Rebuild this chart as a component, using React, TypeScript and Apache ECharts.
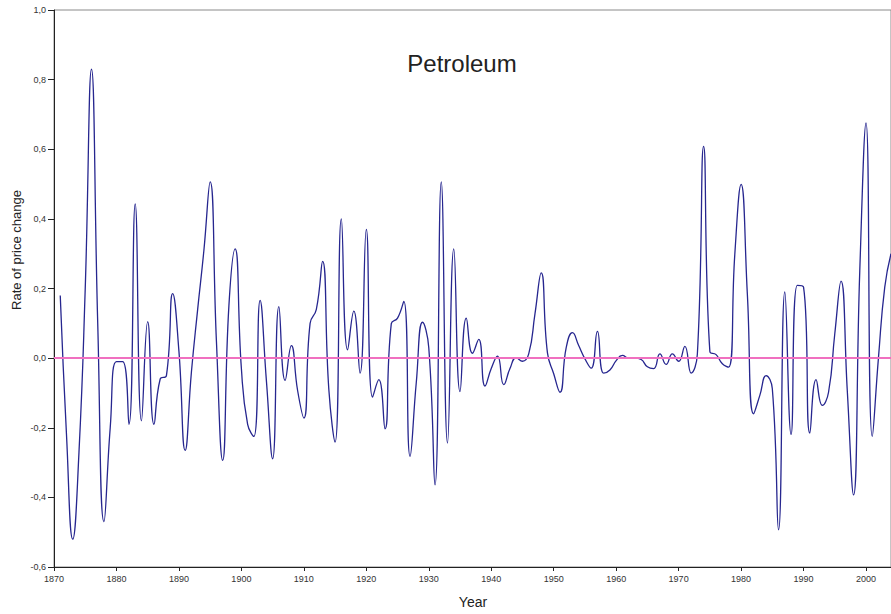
import React, { useEffect, useRef } from "react";
import * as echarts from "echarts";

const years: number[] = [];
for (let y = 1871; y <= 2004; y++) years.push(y);

const rates: number[] = [
  0.18, -0.22, -0.52, -0.27, 0.2, 0.83, 0.1, -0.47, -0.2, -0.01,
  -0.01, -0.19, 0.443, -0.18, 0.105, -0.19, -0.06, -0.05, 0.185, 0.02,
  -0.265, -0.04, 0.14, 0.31, 0.506, 0.05, -0.294, 0.15, 0.314, -0.03,
  -0.19, -0.225, 0.166, -0.064, -0.289, 0.148, -0.064, 0.036, -0.093, -0.172,
  0.1, 0.14, 0.278, -0.09, -0.241, 0.4, 0.024, 0.135, -0.043, 0.37,
  -0.112, -0.062, -0.203, 0.099, 0.115, 0.163, -0.282, -0.07, 0.103, 0.03,
  -0.364, 0.506, -0.244, 0.314, -0.096, 0.115, 0.014, 0.054, -0.08, -0.03,
  0.006, -0.076, -0.03, 0.001, -0.009, 0.012, 0.127, 0.245, 0.015, -0.045,
  -0.098, 0.03, 0.073, 0.036, -0.002, -0.029, 0.077, -0.043, -0.034, -0.007,
  0.008, 0.0, 0.0, -0.004, -0.025, -0.03, 0.012, -0.018, 0.012, -0.009,
  0.034, -0.043, 0.012, 0.608, 0.019, 0.01, -0.016, -0.026, 0.3, 0.499,
  0.185, -0.16, -0.107, -0.05, -0.088, -0.493, 0.19, -0.219, 0.209, 0.204,
  -0.215, -0.062, -0.136, -0.098, 0.07, 0.221, -0.093, -0.393, 0.25, 0.676,
  -0.225, 0.003, 0.204, 0.3,
];

const title = "Petroleum";
const yName = "Rate of price change";
const xName = "Year";

export default function App() {
  const ref = useRef<HTMLDivElement>(null);
  useEffect(() => {
    if (!ref.current) return;
    const chart = echarts.init(ref.current, undefined, { renderer: "svg" });
    const font = "Liberation Sans, Arial, sans-serif";
    chart.setOption({
      animation: false,
      backgroundColor: "#ffffff",
      textStyle: { fontFamily: font },
      grid: {
        left: 54,
        top: 10,
        right: -2,
        bottom: 47,
        show: true,
        borderColor: "#8a8a8a",
        borderWidth: 1,
      },
      xAxis: {
        type: "value",
        min: 1870,
        max: 2004,
        interval: 10,
        axisLine: { show: true, onZero: false, lineStyle: { color: "#222", width: 1 } },
        axisTick: { show: true, inside: false, length: 4, lineStyle: { color: "#222" } },
        axisLabel: {
          fontSize: 9,
          color: "#333",
          margin: 7,
          showMaxLabel: false,
          formatter: (v: number) => (v % 10 === 0 ? String(v) : ""),
        },
        splitLine: { show: false },
      },
      yAxis: {
        type: "value",
        min: -0.6,
        max: 1.0,
        interval: 0.2,
        axisLine: { show: true, lineStyle: { color: "#222", width: 1 } },
        axisTick: { show: true, inside: false, length: 6, lineStyle: { color: "#222" } },
        axisLabel: {
          fontSize: 9,
          color: "#333",
          margin: 8,
          formatter: (v: number) => v.toFixed(1).replace(".", ","),
        },
        splitLine: { show: false },
      },
      graphic: [
        {
          type: "text",
          x: 462,
          y: 63,
          style: {
            text: title,
            fontSize: 24,
            fontFamily: font,
            fill: "#222",
            textAlign: "center",
            textVerticalAlign: "middle",
          },
        },
        {
          type: "text",
          x: 16,
          y: 250,
          rotation: Math.PI / 2,
          style: {
            text: yName,
            fontSize: 13,
            fontFamily: font,
            fill: "#222",
            textAlign: "center",
            textVerticalAlign: "middle",
          },
        },
        {
          type: "text",
          x: 473,
          y: 602,
          style: {
            text: xName,
            fontSize: 14,
            fontFamily: font,
            fill: "#222",
            textAlign: "center",
            textVerticalAlign: "middle",
          },
        },
      ],
      series: [
        {
          type: "line",
          data: years.map((y, i) => [y, rates[i]]),
          smooth: 0.5,
          showSymbol: false,
          symbol: "none",
          clip: true,
          lineStyle: { color: "#26268f", width: 1.3 },
          markLine: {
            silent: true,
            symbol: "none",
            label: { show: false },
            lineStyle: { color: "#f070c0", width: 2, type: "solid" },
            data: [{ yAxis: 0 }],
          },
          z: 3,
        },
      ],
    });
    return () => chart.dispose();
  }, []);
  return (
    <div
      ref={ref}
      style={{ position: "fixed", left: 0, top: 0, width: 891, height: 614 }}
    />
  );
}
